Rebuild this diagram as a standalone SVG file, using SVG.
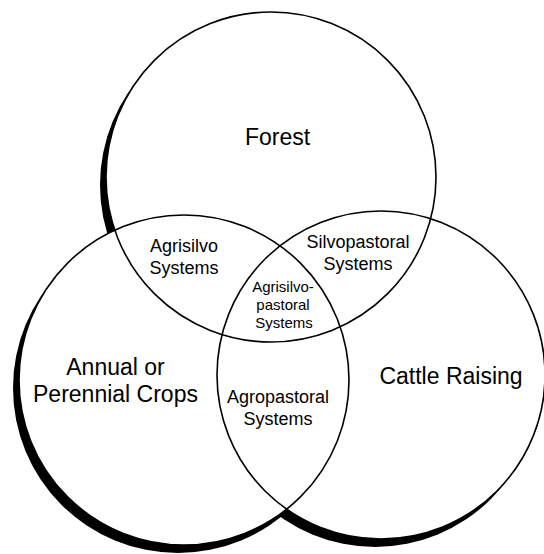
<svg xmlns="http://www.w3.org/2000/svg" xmlns:xlink="http://www.w3.org/1999/xlink" width="544" height="554" viewBox="0 0 544 554">
  <style>
    .shadow { fill: #000; stroke: none; }
    .fill { fill: #fff; stroke: none; }
    .ring { fill: none; stroke: #000; stroke-width: 1.6; }
    .big { font-family: "Liberation Sans", Arial, sans-serif; font-size: 23px; fill: #000; text-anchor: middle; }
    .mid { font-family: "Liberation Sans", Arial, sans-serif; font-size: 18px; fill: #000; text-anchor: middle; }
    .small { font-family: "Liberation Sans", Arial, sans-serif; font-size: 15px; fill: #000; text-anchor: middle; }
  </style>
  <defs>
    <circle id="c-forest" cx="271" cy="177" r="165"/>
    <circle id="c-crops" cx="184" cy="380" r="165"/>
    <circle id="c-cattle" cx="381" cy="375" r="164"/>
  </defs>
  <rect width="544" height="554" fill="#fff"/>
  <g id="shadows" transform="translate(-6,8)">
    <use xlink:href="#c-forest" class="shadow"/>
    <use xlink:href="#c-crops" class="shadow"/>
    <use xlink:href="#c-cattle" class="shadow"/>
  </g>
  <g id="fills">
    <use xlink:href="#c-forest" class="fill"/>
    <use xlink:href="#c-crops" class="fill"/>
    <use xlink:href="#c-cattle" class="fill"/>
  </g>
  <g id="forest">
    <use xlink:href="#c-forest" class="ring"/>
    <text class="big" x="277.5" y="145">Forest</text>
  </g>
  <g id="crops">
    <use xlink:href="#c-crops" class="ring"/>
    <text class="big" x="115.5" y="375">Annual or</text>
    <text class="big" x="115.5" y="402">Perennial Crops</text>
  </g>
  <g id="cattle">
    <use xlink:href="#c-cattle" class="ring"/>
    <text class="big" x="451" y="384">Cattle Raising</text>
  </g>
  <g id="agrisilvo">
    <text class="mid" x="184" y="252">Agrisilvo</text>
    <text class="mid" x="184" y="274">Systems</text>
  </g>
  <g id="silvopastoral">
    <text class="mid" x="358" y="248">Silvopastoral</text>
    <text class="mid" x="358" y="270">Systems</text>
  </g>
  <g id="agrisilvopastoral">
    <text class="small" x="283" y="292">Agrisilvo-</text>
    <text class="small" x="283" y="310">pastoral</text>
    <text class="small" x="284" y="328">Systems</text>
  </g>
  <g id="agropastoral">
    <text class="mid" x="278" y="403">Agropastoral</text>
    <text class="mid" x="278" y="425">Systems</text>
  </g>
</svg>
